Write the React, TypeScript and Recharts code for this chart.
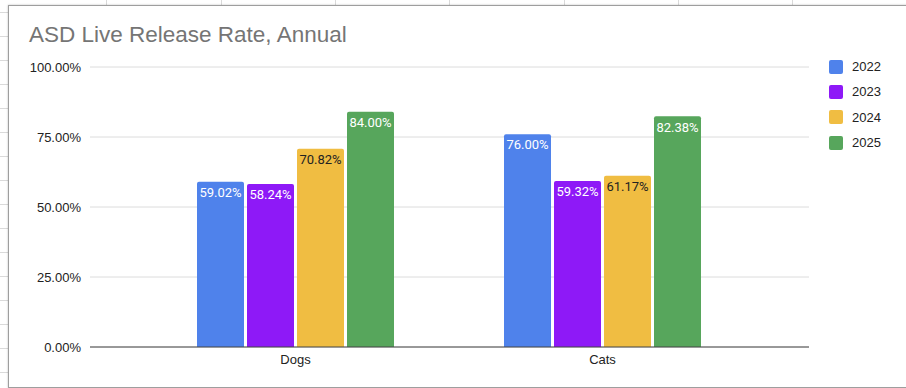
import { BarChart, Bar, XAxis, YAxis, CartesianGrid, Legend, LabelList } from 'recharts';

const categories = ['Dogs', 'Cats'];
const years = ['2022', '2023', '2024', '2025'];
const rate2022 = [59.02, 76.0];
const rate2023 = [58.24, 59.32];
const rate2024 = [70.82, 61.17];
const rate2025 = [84.0, 82.38];
const yTicks = [0, 25, 50, 75, 100];

const seriesValues = [rate2022, rate2023, rate2024, rate2025];
const colors = ['#4F82EB', '#8E19F7', '#F0BD42', '#57A65C'];
const labelColors = ['#ffffff', '#ffffff', '#222222', '#ffffff'];

const data = categories.map((name, i) => {
  const row: Record<string, string | number> = { name };
  years.forEach((y, s) => {
    row[y] = seriesValues[s][i];
  });
  return row;
});

const pct = (v: number | string) => `${Number(v).toFixed(2)}%`;

function LegendBox(props: any) {
  const items = props.payload || [];
  return (
    <div style={{ fontFamily: '"Liberation Sans", Arial, sans-serif', fontSize: 13, color: '#222' }}>
      {items.map((it: any) => (
        <div key={it.value} style={{ display: 'flex', alignItems: 'center', height: 25.3 }}>
          <span
            style={{
              display: 'inline-block',
              width: 14,
              height: 14,
              borderRadius: 2,
              background: it.color,
              marginRight: 9,
            }}
          />
          <span>{it.value}</span>
        </div>
      ))}
    </div>
  );
}

export default function App() {
  return (
    <div
      style={{
        position: 'absolute',
        left: 0,
        top: 0,
        width: 906,
        height: 388,
        overflow: 'hidden',
        background: '#fff',
        backgroundImage:
          'repeating-linear-gradient(90deg, transparent 0 106.3px, #dadada 106.3px 107.3px, transparent 107.3px 114.33px), repeating-linear-gradient(180deg, transparent 0 12px, #dadada 12px 13px, transparent 13px 24px)',
      }}
    >
      <div
        style={{
          position: 'absolute',
          left: 8,
          top: 5,
          width: 920,
          height: 381,
          background: '#fff',
          border: '1px solid #9e9e9e',
          boxShadow: '0 0 2px rgba(0,0,0,0.25)',
        }}
      />
      <div
        style={{
          position: 'absolute',
          left: 29,
          top: 24,
          fontFamily: '"Liberation Sans", Arial, sans-serif',
          fontSize: 22.5,
          lineHeight: '22px',
          color: '#757575',
          whiteSpace: 'nowrap',
        }}
      >
        ASD Live Release Rate, Annual
      </div>
      <div style={{ position: 'absolute', left: 0, top: 0 }}>
        <BarChart
          width={906}
          height={388}
          data={data}
          margin={{ top: 67, right: 27, bottom: 11, left: 8 }}
          barCategoryGap={55}
          barGap={3}
        >
          <CartesianGrid vertical={false} stroke="#dcdcdc" />
          <XAxis
            dataKey="name"
            padding={{ left: 52, right: 53 }}
            tickLine={false}
            axisLine={{ stroke: '#444' }}
            height={30}
            tick={{ fontSize: 13, fill: '#222', fontFamily: '"Liberation Sans", Arial, sans-serif' }}
          />
          <YAxis
            width={82}
            domain={[0, 100]}
            ticks={yTicks}
            tickFormatter={pct}
            axisLine={false}
            tickLine={false}
            tickMargin={3}
            tick={{ fontSize: 13, fill: '#222', fontFamily: '"Liberation Sans", Arial, sans-serif' }}
          />
          <Legend
            layout="vertical"
            verticalAlign="top"
            align="right"
            content={LegendBox}
            wrapperStyle={{ left: 829, top: 54, width: 70 }}
          />
          {years.map((y, s) => (
            <Bar key={y} dataKey={y} fill={colors[s]} radius={[2, 2, 0, 0]} isAnimationActive={false}>
              <LabelList
                dataKey={y}
                position="insideTop"
                offset={6}
                formatter={pct}
                fill={labelColors[s]}
                style={{ fontSize: 13, fontFamily: 'Roboto, sans-serif' }}
              />
            </Bar>
          ))}
        </BarChart>
      </div>
    </div>
  );
}
